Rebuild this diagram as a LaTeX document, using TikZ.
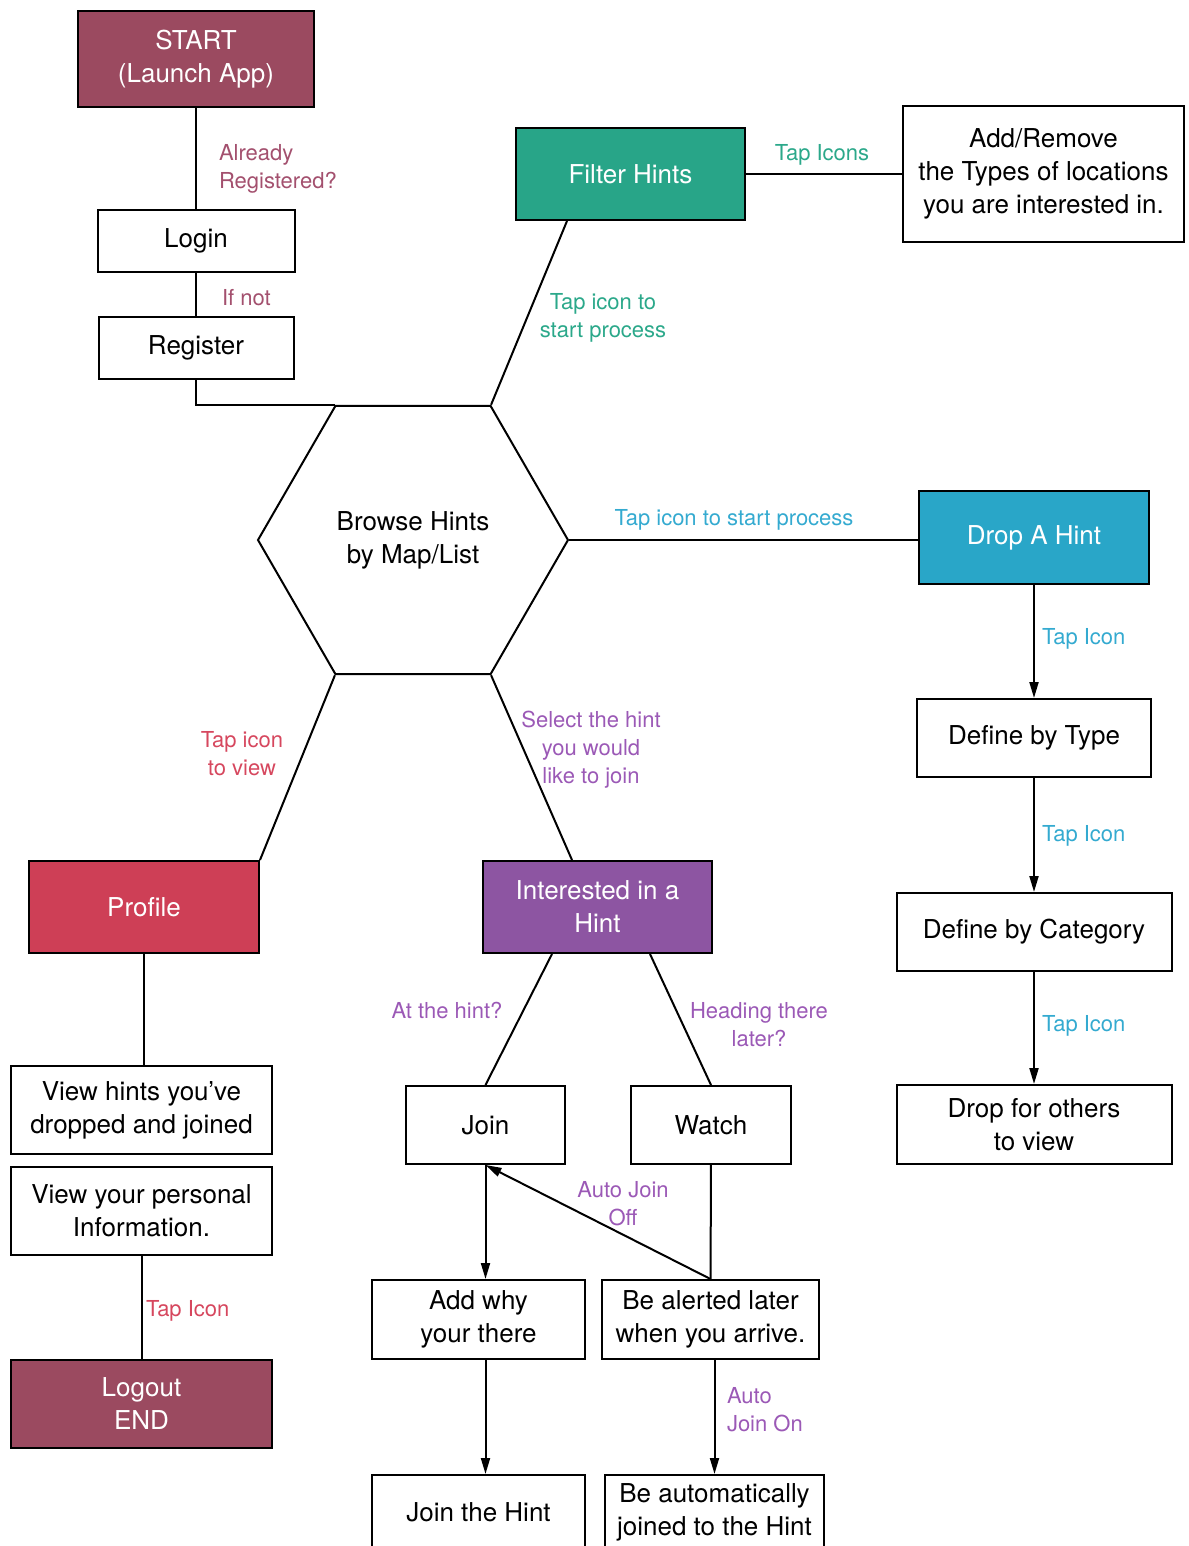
\documentclass[tikz,border=0pt]{standalone}
\usepackage{fontspec}
\setmainfont{TeX Gyre Heros}
\usetikzlibrary{calc}
\usetikzlibrary{graphs}
\usetikzlibrary{shapes}
\usetikzlibrary{positioning}
\usetikzlibrary{arrows.meta}

\definecolor{plum}{RGB}{155,74,96}
\definecolor{leaf}{RGB}{40,165,136}
\definecolor{sky}{RGB}{41,166,200}
\definecolor{rose}{RGB}{206,63,86}
\definecolor{grape}{RGB}{141,85,162}
\definecolor{plumtext}{RGB}{163,80,110}
\definecolor{leaftext}{RGB}{43,168,138}
\definecolor{skytext}{RGB}{52,170,208}
\definecolor{rosetext}{RGB}{214,71,94}
\definecolor{grapetext}{RGB}{155,89,182}

\begin{document}
\begin{tikzpicture}[x=1pt, y=-1pt, line width=2pt,
        box/.style={draw, fill=white, align=center, inner sep=0pt, font=\fontsize{26}{33}\selectfont},
        tinted/.style={box, fill=#1, text=white},
        lbl/.style={inner sep=0pt, align=center, text=#1, font=\fontsize{22}{28}\selectfont}]
        \useasboundingbox (0,0) rectangle (1188,1546);
        \clip (0,0) rectangle (1188,1546);

        % login column
        \node[tinted=plum, minimum width=236pt, minimum height=96pt, anchor=north west] (start) at (77,10) {START\\(Launch App)};
        \node[box, minimum width=197pt, minimum height=62pt, below=101pt of start] (login) {Login};
        \node[box, minimum width=195pt, minimum height=62pt, below=43pt of login] (register) {Register};

        \node[draw, regular polygon, regular polygon sides=6, minimum size=310pt, inner sep=0pt, align=center, font=\fontsize{26}{33}\selectfont] (browse) at (413,540) {Browse Hints\\by Map/List};

        % filter and drop
        \node[tinted=leaf, minimum width=229pt, minimum height=92pt, anchor=north west] (filter) at (515,127) {Filter Hints};
        \node[box, minimum width=281pt, minimum height=136pt, anchor=north west] (addrem) at (902,105) {Add/Remove\\the Types of locations\\you are interested in.};
        \node[tinted=sky, minimum width=230pt, minimum height=93pt, anchor=north west] (drop) at (918,490) {Drop A Hint};
        \node[box, minimum width=234pt, minimum height=78pt, below=113pt of drop] (deftype) {Define by Type};
        \node[box, minimum width=275pt, minimum height=78pt, below=114pt of deftype] (defcat) {Define by Category};
        \node[box, minimum width=275pt, minimum height=79pt, below=112pt of defcat] (dropothers) {Drop for others\\to view};

        % profile column
        \node[tinted=rose, minimum width=230pt, minimum height=92pt, anchor=north west] (profile) at (28,860) {Profile};
        \node[box, minimum width=261pt, minimum height=88pt, anchor=north west] (viewdrop) at (10,1065) {View hints you’ve\\dropped and joined};
        \node[box, minimum width=261pt, minimum height=88pt, below=11pt of viewdrop] (viewinfo) {View your personal\\Information.};
        \node[tinted=plum, minimum width=261pt, minimum height=88pt, below=103pt of viewinfo] (logout) {Logout\\END};

        % join column
        \node[tinted=grape, minimum width=229pt, minimum height=92pt, anchor=north west] (interest) at (482,860) {Interested in a\\Hint};
        \node[box, minimum width=159pt, minimum height=78pt, anchor=north west] (join) at (405,1085) {Join};
        \node[box, minimum width=160pt, minimum height=78pt, right=64pt of join] (watch) {Watch};
        \node[box, minimum width=213pt, minimum height=79pt, anchor=north west] (addwhy) at (371,1279) {Add why\\your there};
        \node[box, minimum width=217pt, minimum height=79pt, right=15pt of addwhy] (alert) {Be alerted later\\when you arrive.};
        \node[box, minimum width=213pt, minimum height=74pt, anchor=north west] (jointhe) at (371,1474) {Join the Hint};
        \node[box, minimum width=219pt, minimum height=74pt, anchor=north west] (autojoin) at (604,1474) {Be automatically\\joined to the Hint};

        % labels
        \node[lbl=plumtext, align=left, anchor=west] (already) at (218,169) {Already\\Registered?};
        \node[lbl=plumtext, anchor=west] (ifnot) at (221,298) {If not};
        \node[lbl=leaftext] (tapicons) at (822,155) {Tap Icons};
        \node[lbl=leaftext] (filtertap) at (603,318) {Tap icon to\\start process};
        \node[lbl=skytext] (droptap) at (734,520) {Tap icon to start process};
        \node[lbl=skytext, anchor=west] (typetap) at (1041,639) {Tap Icon};
        \node[lbl=skytext, anchor=west] (cattap) at (1041,836) {Tap Icon};
        \node[lbl=skytext, anchor=west] (otherstap) at (1041,1026) {Tap Icon};
        \node[lbl=rosetext] (profiletap) at (242,754) {Tap icon\\to view};
        \node[lbl=rosetext, anchor=west] (logouttap) at (145,1311) {Tap Icon};
        \node[lbl=grapetext] (selecttap) at (591,750) {Select the hint\\you would\\like to join};
        \node[lbl=grapetext] (atthehint) at (447,1011) {At the hint?};
        \node[lbl=grapetext] (heading) at (759,1025) {Heading there\\later?};
        \node[lbl=grapetext] (autooff) at (623,1204) {Auto Join\\Off};
        \node[lbl=grapetext, align=left, anchor=west] (autoon) at (726,1410) {Auto\\Join On};

        % ports
        \coordinate (hex nw) at (browse.120);
        \coordinate (hex ne) at (browse.60);
        \coordinate (hex e) at (browse.east);
        \coordinate (hex sw) at (browse.-120);
        \coordinate (hex se) at (browse.-60);
        \coordinate (filter port) at ($(filter.south west)+(52,0)$);
        \coordinate (drop port) at (drop.west |- hex e);
        \coordinate (profile port) at (profile.north east);
        \coordinate (interest port) at ($(interest.north west)+(90,0)$);
        \coordinate (join port) at ($(interest.south west)+(70,0)$);
        \coordinate (watch port) at ($(interest.south east)-(63,0)$);
        \coordinate (join top) at (join.north);
        \coordinate (watch top) at (watch.north);
        \coordinate (profile foot) at (profile.south);
        \coordinate (viewdrop port) at (profile.south |- viewdrop.north);
        \coordinate (addwhy port) at (join.south |- addwhy.north);
        \coordinate (addwhy foot) at (join.south |- addwhy.south);
        \coordinate (jointhe port) at (join.south |- jointhe.north);
        \coordinate (alert top) at (alert.north);
        \coordinate (join foot) at (join.south);
        \coordinate (alert foot) at ($(alert.south)+(4,0)$);
        \coordinate (autojoin port) at (alert foot |- autojoin.north);

        \graph { [edges={draw}]
            (start) -- (login) -- (register),
            (filter) -- (addrem),
            (filter port) -- (hex ne),
            (hex e) -- (drop port),
            (hex sw) -- (profile port),
            (hex se) -- (interest port),
            (profile foot) -- (viewdrop port),
            (viewinfo) -- (logout),
            (join port) -- (join top),
            (watch port) -- (watch top),
            (watch) -- (alert),
        };

        \graph { [edges={draw, arrows={-{Triangle[length=16pt,width=9pt]}}}]
            (drop) -> (deftype) -> (defcat) -> (dropothers),
            (join) -> (addwhy port),
            (addwhy foot) -> (jointhe port),
            (alert top) -> (join foot),
            (alert foot) -> (autojoin port),
        };

        \draw (register) |- (hex nw);
    \end{tikzpicture}
\end{document}
